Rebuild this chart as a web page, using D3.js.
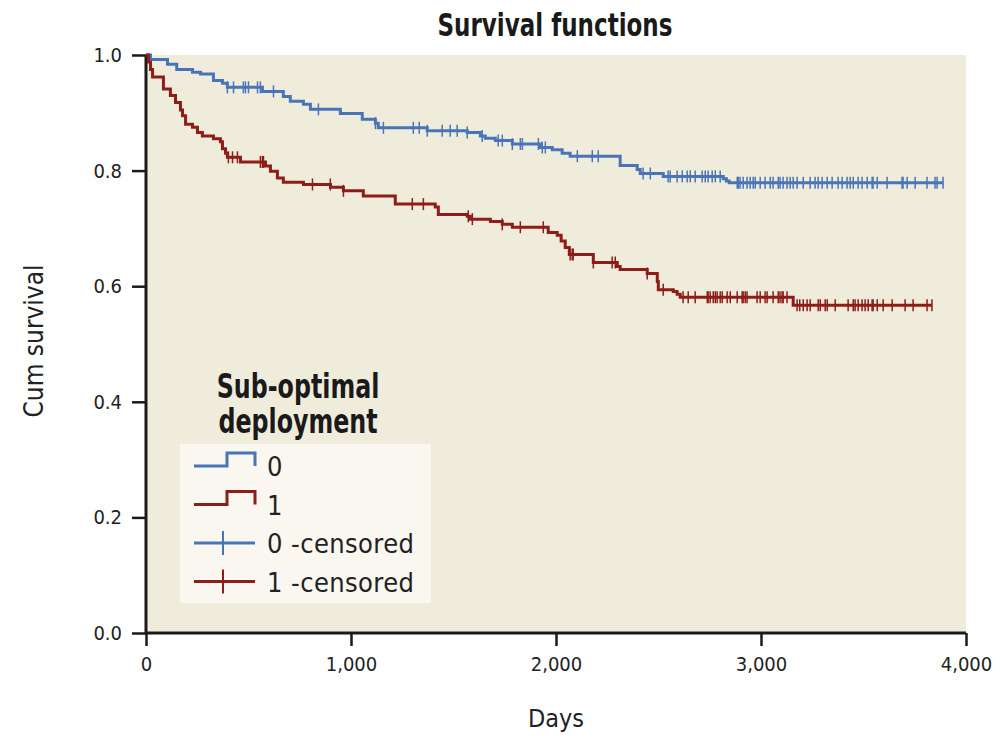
<!DOCTYPE html>
<html>
<head>
<meta charset="utf-8">
<script src="https://cdn.jsdelivr.net/npm/d3@7"></script>
<style>
  body { margin: 0; background: #fff; }
  svg text { font-family: "Liberation Sans Narrow", "DejaVu Sans Condensed", sans-serif; font-stretch: condensed; }
</style>
</head>
<body>
<svg id="chart"></svg>
<script>
// step times (days) and survival after each step
const blueSteps = [[0,1.0],[22,0.992],[105,0.984],[150,0.975],[227,0.970],[266,0.967],[329,0.956],[373,0.951],[397,0.944],[568,0.937],[670,0.928],[704,0.920],[768,0.915],[802,0.906],[948,0.899],[1055,0.889],[1119,0.882],[1133,0.874],[1372,0.869],[1567,0.866],[1631,0.860],[1655,0.856],[1704,0.852],[1787,0.846],[1924,0.840],[1982,0.836],[2030,0.830],[2069,0.825],[2313,0.809],[2396,0.802],[2411,0.795],[2523,0.790],[2816,0.786],[2831,0.782],[2845,0.779]];
const blueEnd = 3888;
const redSteps = [[0,1.0],[12,0.988],[22,0.975],[32,0.962],[85,0.941],[119,0.930],[144,0.918],[168,0.905],[178,0.895],[193,0.880],[227,0.875],[251,0.866],[275,0.860],[329,0.855],[363,0.850],[373,0.838],[388,0.830],[397,0.823],[461,0.815],[583,0.808],[607,0.799],[641,0.787],[670,0.780],[768,0.776],[900,0.771],[963,0.765],[1060,0.756],[1216,0.742],[1411,0.737],[1426,0.724],[1567,0.721],[1582,0.716],[1680,0.712],[1738,0.707],[1787,0.702],[1962,0.693],[2006,0.688],[2025,0.678],[2045,0.667],[2065,0.655],[2182,0.641],[2299,0.634],[2313,0.629],[2445,0.622],[2494,0.608],[2499,0.594],[2572,0.591],[2591,0.586],[2606,0.581],[3157,0.567]];
const redEnd = 3834;

// censored observations (days)
const blueCensored = [397,427,475,485,500,544,558,622,841,1119,1158,1304,1333,1372,1445,1484,1518,1567,1640,1718,1738,1787,1826,1836,1914,1933,1948,2104,2177,2206,2425,2460,2547,2557,2591,2616,2640,2655,2679,2713,2728,2742,2762,2777,2801,2884,2889,2898,2913,2932,2947,2962,2972,2996,3020,3045,3059,3084,3093,3108,3127,3142,3157,3176,3206,3240,3264,3279,3298,3323,3347,3376,3396,3420,3435,3450,3474,3493,3518,3542,3547,3567,3615,3688,3693,3713,3752,3810,3849,3859,3888];
const redCensored = [402,422,446,558,568,573,812,899,963,1299,1353,1572,1592,1738,1826,1938,2069,2079,2084,2182,2274,2289,2445,2523,2620,2645,2679,2738,2742,2752,2767,2777,2786,2801,2811,2835,2850,2884,2908,2913,2923,2932,2981,2996,3020,3030,3059,3084,3093,3103,3108,3127,3176,3189,3206,3225,3240,3279,3289,3313,3323,3362,3425,3450,3459,3474,3493,3508,3523,3542,3547,3567,3596,3640,3703,3742,3810,3834];

const xTicks = [0, 1000, 2000, 3000, 4000];
const yTicks = [0.0, 0.2, 0.4, 0.6, 0.8, 1.0];
const legendItems = ["0", "1", "0 -censored", "1 -censored"];

const W = 1005, H = 741;
const m = { top: 55, right: 39, bottom: 108, left: 146 };
const blue = "#4a74b9", red = "#8e1c18";

const svg = d3.select("#chart").attr("width", W).attr("height", H);
const cW = W - m.left - m.right, cH = H - m.top - m.bottom;
const g = svg.append("g").attr("transform", `translate(${m.left},${m.top})`);

const x = d3.scaleLinear().domain([0, 4000]).range([0, cW]);
const y = d3.scaleLinear().domain([0, 1]).range([cH, 0]);

// plot background
g.append("rect").attr("width", cW).attr("height", cH).attr("fill", "#f0ecdc");

// bold condensed headings: squeeze horizontally
function heading(cx, cy, lines, size, gap) {
  const t = svg.append("text").attr("transform", `translate(${cx},${cy}) scale(0.8,1)`)
    .attr("text-anchor", "middle")
    .style("font-family", "'DejaVu Sans Condensed', sans-serif").style("font-weight", "bold")
    .style("font-size", size + "px").attr("fill", "#1a1a1a");
  t.selectAll("tspan").data(lines).join("tspan")
    .attr("x", 0).attr("y", (d, i) => i * gap).text(d => d);
}
heading(555, 36, ["Survival functions"], 32, 0);
heading(298, 398, ["Sub-optimal", "deployment"], 33, 35);

svg.append("text").attr("transform", "translate(43,341) rotate(-90)").attr("text-anchor", "middle")
  .style("font-size", "26px").attr("fill", "#222").text("Cum survival");
svg.append("text").attr("x", 556).attr("y", 727).attr("text-anchor", "middle")
  .style("font-size", "25px").attr("fill", "#222").text("Days");

// axes
const xAxis = g.append("g").attr("transform", `translate(0,${cH})`)
  .call(d3.axisBottom(x).tickValues(xTicks).tickFormat(d3.format(",")).tickSize(13).tickPadding(11));
const yAxis = g.append("g")
  .call(d3.axisLeft(y).tickValues(yTicks).tickFormat(d3.format(".1f")).tickSize(14).tickPadding(10));
[xAxis, yAxis].forEach(a => {
  a.selectAll(".domain").attr("stroke", "#1a1a1a").attr("stroke-width", 3);
  a.selectAll(".tick line").attr("stroke", "#1a1a1a").attr("stroke-width", 2.5);
  a.selectAll("text").style("font-size", "20px").attr("fill", "#222");
});
xAxis.select(".domain").attr("d", `M0,0H${cW}`);
yAxis.select(".domain").attr("d", `M0,${cH}V0`);

// curves
const line = d3.line().x(d => x(d[0])).y(d => y(d[1])).curve(d3.curveStepAfter);
const bis = d3.bisector(d => d[0]).right;
function drawGroup(steps, end, cens, col) {
  const pts = steps.concat([[end, steps[steps.length - 1][1]]]);
  g.append("path").datum(pts).attr("fill", "none").attr("stroke", col)
    .attr("stroke-width", 3).attr("d", line);
  g.append("g").selectAll("line").data(cens).join("line")
    .attr("x1", d => x(d)).attr("x2", d => x(d))
    .attr("y1", d => y(steps[bis(steps, d) - 1][1]) - 6)
    .attr("y2", d => y(steps[bis(steps, d) - 1][1]) + 6)
    .attr("stroke", col).attr("stroke-width", 1.5);
}
drawGroup(blueSteps, blueEnd, blueCensored, blue);
drawGroup(redSteps, redEnd, redCensored, red);

// legend
svg.append("rect").attr("x", 180).attr("y", 444).attr("width", 251).attr("height", 159).attr("fill", "#f9f7f0");
const lg = svg.append("g").selectAll("g").data(legendItems).join("g")
  .attr("transform", (d, i) => `translate(194,${466 + i * 38.5})`);
lg.each(function (d, i) {
  const s = d3.select(this);
  const col = i % 2 === 0 ? blue : red;
  if (i < 2) {
    s.append("path").attr("d", "M0,0H33V-13H61V0").attr("fill", "none")
      .attr("stroke", col).attr("stroke-width", 3);
  } else {
    s.append("line").attr("x1", 0).attr("x2", 61).attr("stroke", col).attr("stroke-width", 3);
    s.append("line").attr("x1", 29).attr("x2", 29).attr("y1", -12).attr("y2", 12)
      .attr("stroke", col).attr("stroke-width", 2);
  }
  s.append("text").attr("x", 73).attr("y", 10).style("font-size", "27px")
    .style("letter-spacing", "0.4px").attr("fill", "#222").text(d);
});
</script>
</body>
</html>
